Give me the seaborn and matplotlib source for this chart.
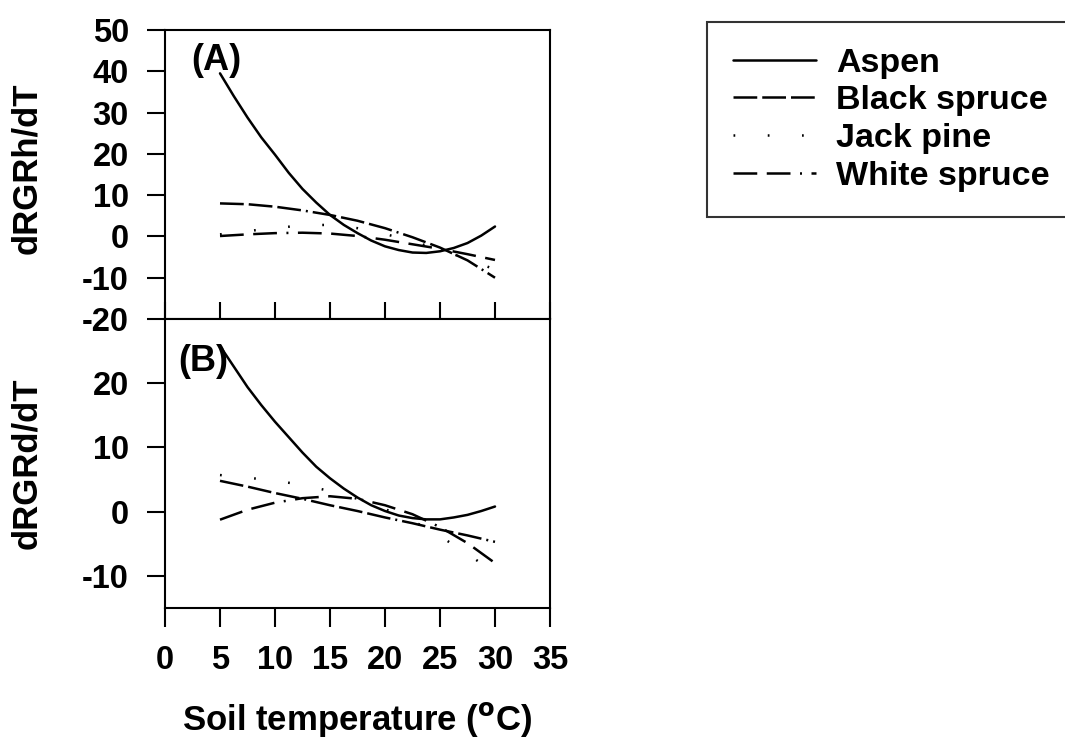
import numpy as np
import pandas as pd
import seaborn as sns
import matplotlib.pyplot as plt

# soil temperature (degC)
temperatura = [5, 7.5, 10, 12.5, 15, 17.5, 20, 22.5, 25, 27.5, 30]
temperatura_fina = [5, 6.25, 7.5, 8.75, 10, 11.25, 12.5, 13.75, 15, 16.25, 17.5,
                    18.75, 20, 21.25, 22.5, 23.75, 25, 26.25, 27.5, 28.75, 30]
especies = ["Aspen", "Black spruce", "Jack pine", "White spruce"]

# painel A: dRGRh/dT (aspen lido em passos mais finos)
rgrh_aspen = [39.5, 34, 28.8, 24, 19.8, 15.4, 11.5, 8.2, 5.2, 2.8, 0.8,
              -1.0, -2.4, -3.3, -3.9, -4.0, -3.6, -2.8, -1.6, 0.2, 2.4]
rgrh_black = [8.0, 7.8, 7.2, 6.3, 5.2, 3.8, 2.0, -0.2, -2.7, -5.8, -10.0]
rgrh_jack = [0.5, 1.3, 2.0, 2.7, 2.8, 2.0, 0.6, -1.2, -3.2, -5.5, -8.0]
rgrh_white = [0.1, 0.5, 0.8, 0.9, 0.7, 0.1, -0.8, -1.9, -3.0, -4.3, -5.7]

# painel B: dRGRd/dT
rgrd_aspen = [25.8, 22.6, 19.4, 16.6, 14, 11.6, 9.2, 7.0, 5.2, 3.6, 2.2,
              1.0, 0.1, -0.6, -1.0, -1.2, -1.2, -0.9, -0.5, 0.1, 0.8]
rgrd_black = [4.8, 3.9, 2.9, 2.0, 1.0, 0.1, -0.9, -1.8, -2.8, -3.7, -4.7]
rgrd_jack = [5.7, 5.3, 4.8, 4.2, 3.2, 2.0, 0.4, -1.4, -3.8, -6.6, -9.5]
rgrd_white = [-1.25, 0.3, 1.4, 2.1, 2.4, 2.0, 1.0, -0.4, -2.4, -4.9, -8.0]

estilos = {
    "Aspen": "-",
    "Black spruce": (0, (9.5, 2, 9.5, 2, 9.5, 2, 0.8, 2)),
    "Jack pine": (0, (0.7, 13)),
    "White spruce": (0, (9.5, 3.8, 9.5, 3.8, 0.8, 3.8)),
}

sns.set_theme(style="white")
plt.rcParams["font.family"] = ["Liberation Sans", "DejaVu Sans"]
plt.rcParams["font.weight"] = "bold"
plt.rcParams["axes.labelweight"] = "bold"
plt.rcParams["axes.unicode_minus"] = False
plt.rcParams["axes.linewidth"] = 1.5
plt.rcParams["axes.edgecolor"] = "black"
for k in ["text.color", "axes.labelcolor", "xtick.color", "ytick.color"]:
    plt.rcParams[k] = "black"

fig = plt.figure(figsize=(10.65, 7.52), dpi=100)
ax_a = fig.add_axes([165 / 1065, 1 - 319 / 752, 385 / 1065, 289 / 752])
ax_b = fig.add_axes([165 / 1065, 1 - 608 / 752, 385 / 1065, 289 / 752])

xs = [temperatura_fina, temperatura, temperatura, temperatura]
dados_a = [rgrh_aspen, rgrh_black, rgrh_jack, rgrh_white]
dados_b = [rgrd_aspen, rgrd_black, rgrd_jack, rgrd_white]

for ax, dados in [(ax_a, dados_a), (ax_b, dados_b)]:
    for nome, x, valores in zip(especies, xs, dados):
        df = pd.DataFrame({"temp": x, "valor": valores})
        sns.lineplot(data=df, x="temp", y="valor", ax=ax, color="black",
                     linewidth=1.8, linestyle=estilos[nome], label=nome,
                     legend=False)
    ax.set_xlim(0, 35)
    ax.set_xticks(range(0, 40, 5))
    for s in ax.spines.values():
        s.set_visible(True)
        s.set_linewidth(1.5)
        s.set_color("black")

# painel A
ax_a.set_ylim(-20, 50)
ax_a.set_yticks(range(-20, 60, 10))
ax_a.tick_params(axis="y", direction="out", length=13, width=1.5,
                 labelsize=23.5, pad=13, left=True)
ax_a.tick_params(axis="x", direction="in", length=12, width=1.5,
                 labelbottom=False, bottom=True)
ax_a.set_xlabel("")
ax_a.set_ylabel("dRGRh/dT", fontsize=25)
ax_a.yaxis.set_label_coords(-0.317, 0.52)
ax_a.text(0.068, 0.893, "(A)", transform=ax_a.transAxes, fontsize=26,
          va="center", ha="left")

# painel B
ax_b.set_ylim(-15, 30)
ax_b.set_yticks([-10, 0, 10, 20])
ax_b.tick_params(axis="y", direction="out", length=13, width=1.5,
                 labelsize=23.5, pad=13, left=True)
ax_b.tick_params(axis="x", direction="out", length=13.5, width=1.5,
                 labelsize=23.5, pad=13, bottom=True)
ax_b.set_ylabel("dRGRd/dT", fontsize=25)
ax_b.yaxis.set_label_coords(-0.317, 0.5)
ax_b.set_xlabel("Soil temperature ($^{\\mathbf{o}}$C)", fontsize=25)
ax_b.xaxis.set_label_coords(0.5, -0.318)
ax_b.text(0.034, 0.854, "(B)", transform=ax_b.transAxes, fontsize=26,
          va="center", ha="left")

leg = fig.legend(handles=ax_a.get_lines()[:4], labels=especies,
                 loc="upper left", bbox_to_anchor=(707 / 1065, 1 - 22 / 752),
                 borderaxespad=0, frameon=True, fancybox=False,
                 prop={"size": 24.5, "weight": "bold"},
                 edgecolor="black", handlelength=2.45, handletextpad=0.6,
                 borderpad=0.75, labelspacing=0.2)
leg.get_frame().set_linewidth(1.5)

fig.savefig("out.png", dpi=100, facecolor="white")
